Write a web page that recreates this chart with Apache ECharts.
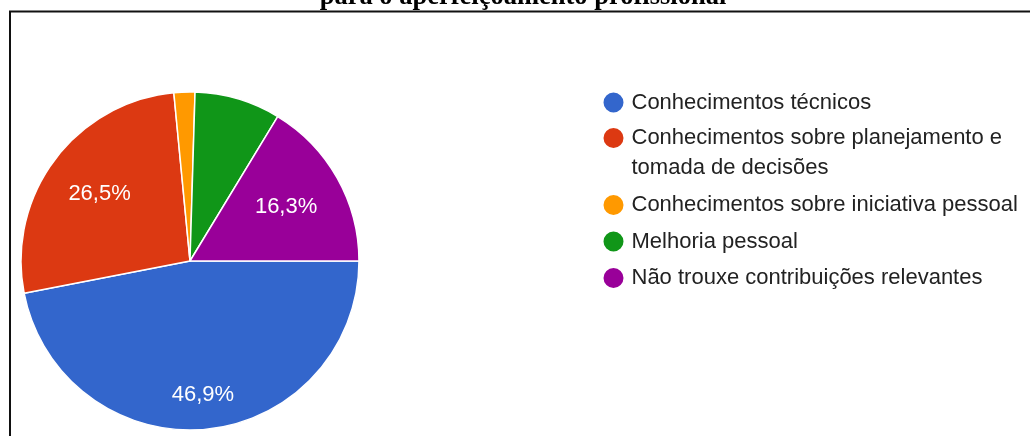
<!DOCTYPE html>
<html>
<head>
<meta charset="utf-8">
<script src="https://cdn.jsdelivr.net/npm/echarts@6/dist/echarts.min.js"></script>
<style>
  html, body { margin: 0; padding: 0; background: #fff; }
  #chart { width: 1030px; height: 436px; }
</style>
</head>
<body>
<div id="chart"></div>
<script>
(function() {
  var titleText = 'para o aperfeiçoamento profissional';
  var names = [
    'Conhecimentos técnicos',
    'Conhecimentos sobre planejamento e tomada de decisões',
    'Conhecimentos sobre iniciativa pessoal',
    'Melhoria pessoal',
    'Não trouxe contribuições relevantes'
  ];
  var values = [46.9, 26.5, 2.0, 8.2, 16.3];
  var colors = ['#3366cc', '#dc3912', '#ff9900', '#109618', '#990099'];

  // where each percentage sits, as a share of the radius
  var labelRadius = [0.77, 0.645, 0, 0, 0.63];
  var cx = 190, cy = 261, r = 169;

  var font = '"Liberation Sans", Arial, sans-serif';
  var ink = '#222';
  var legendText = { color: ink, fontSize: 22, fontFamily: font, lineHeight: 24 };
  var legendBase = { orient: 'vertical', left: 601.5, padding: 0, icon: 'circle', itemWidth: 26, itemHeight: 22 };

  var data = names.map(function(n, i) {
    return {
      name: n,
      value: values[i],
      itemStyle: { color: colors[i] },
      label: { show: values[i] >= 10 }
    };
  });

  var chart = echarts.init(document.getElementById('chart'), null, { renderer: 'canvas' });
  chart.setOption({
    animation: false,
    title: {
      text: titleText,
      left: 518,
      textAlign: 'center',
      top: -21,
      textStyle: { fontFamily: '"Liberation Serif", "Times New Roman", serif', fontWeight: 'bold', fontSize: 26.5, color: '#000' }
    },
    graphic: [{
      type: 'rect',
      z: 100,
      shape: { x: 10, y: 11.5, width: 1100, height: 500 },
      style: { fill: 'none', stroke: '#111', lineWidth: 2 }
    }],
    legend: [
      echarts.util.extend({ top: 90.5, data: [names[0]], textStyle: legendText }, legendBase),
      // wrapped item: an empty first line keeps the icon level with the first text line
      echarts.util.extend({
        top: 97,
        data: [names[1]],
        formatter: function(n) {
          var parts = n.split(' tomada');
          return '{g| }\n{t|' + parts[0] + '}\n{t|tomada' + parts[1] + '}';
        },
        textStyle: {
          color: ink, fontSize: 22, fontFamily: font,
          rich: {
            g: { fontSize: 22, lineHeight: 30 },
            t: { color: ink, fontSize: 22, fontFamily: font, lineHeight: 30 }
          }
        }
      }, legendBase),
      echarts.util.extend({ top: 193, itemGap: 12.5, data: names.slice(2), textStyle: legendText }, legendBase)
    ],
    series: [{
      type: 'pie',
      center: [cx, cy],
      radius: r,
      startAngle: 0,
      clockwise: true,
      data: data,
      itemStyle: { borderColor: '#fff', borderWidth: 1.5 },
      label: {
        position: 'inside',
        color: '#fff',
        fontSize: 22,
        fontFamily: font,
        formatter: function(p) { return p.value.toFixed(1).replace('.', ',') + '%'; }
      },
      labelLine: { show: false },
      labelLayout: function(p) {
        var lr = p.labelRect;
        var x = lr.x + lr.width / 2, y = lr.y + lr.height / 2;
        var k = labelRadius[p.dataIndex] / 0.5;
        return { x: cx + (x - cx) * k, y: cy + (y - cy) * k };
      },
      emphasis: { disabled: true }
    }]
  });
  window.addEventListener('resize', function() { chart.resize(); });
})();
</script>
</body>
</html>
